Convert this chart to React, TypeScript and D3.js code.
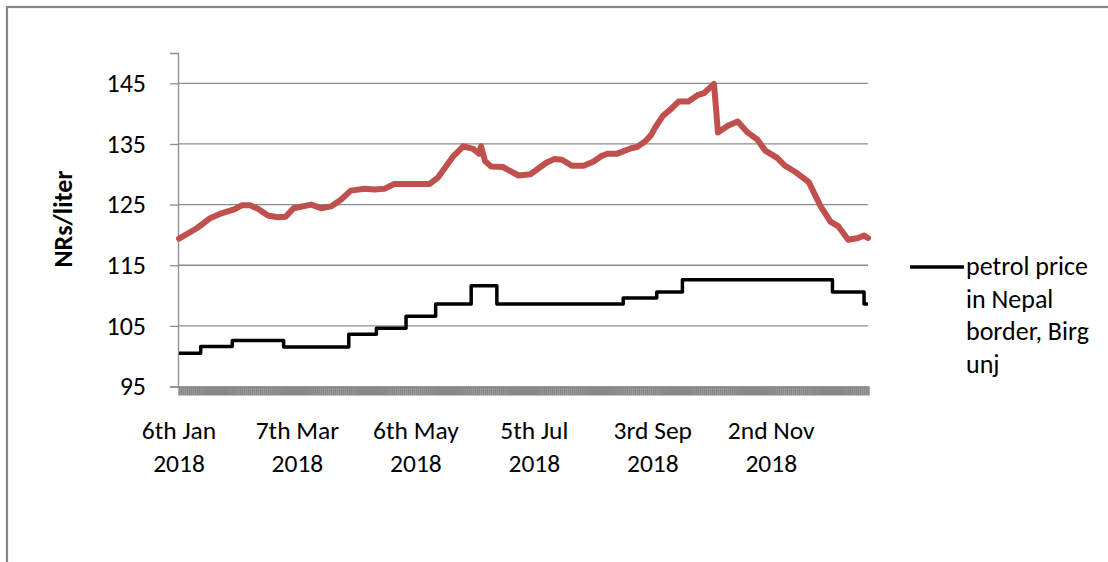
import { useEffect, useRef } from "react";
import * as d3 from "d3";

// red series (no legend entry in the source)
const redDates = [
  "2018-01-06", "2018-01-15", "2018-01-22", "2018-01-27", "2018-02-03", "2018-02-07",
  "2018-02-11", "2018-02-15", "2018-02-20", "2018-02-25", "2018-03-01", "2018-03-05",
  "2018-03-14", "2018-03-19", "2018-03-24", "2018-03-29", "2018-04-03", "2018-04-10",
  "2018-04-15", "2018-04-20", "2018-04-25", "2018-05-13", "2018-05-17", "2018-05-25",
  "2018-05-30", "2018-06-04", "2018-06-07", "2018-06-08", "2018-06-10", "2018-06-13",
  "2018-06-19", "2018-06-27", "2018-07-03", "2018-07-11", "2018-07-15", "2018-07-19",
  "2018-07-24", "2018-07-30", "2018-08-04", "2018-08-08", "2018-08-11", "2018-08-16",
  "2018-08-23", "2018-08-26", "2018-08-30", "2018-09-02", "2018-09-04", "2018-09-08",
  "2018-09-12", "2018-09-16", "2018-09-21", "2018-09-26", "2018-09-29", "2018-10-04",
  "2018-10-06", "2018-10-11", "2018-10-16", "2018-10-21", "2018-10-26", "2018-10-30",
  "2018-11-05", "2018-11-09", "2018-11-15", "2018-11-21", "2018-11-27", "2018-12-02",
  "2018-12-06", "2018-12-11", "2018-12-16", "2018-12-19", "2018-12-21",
];
const redPrices = [
  119.4, 121.1, 122.8, 123.5, 124.2, 124.9,
  124.9, 124.3, 123.2, 122.9, 123.0, 124.4,
  125.0, 124.4, 124.7, 125.8, 127.3, 127.6,
  127.5, 127.6, 128.4, 128.4, 129.4, 133.0,
  134.6, 134.2, 133.4, 134.6, 132.2, 131.3,
  131.2, 129.8, 130.0, 131.9, 132.5, 132.4,
  131.4, 131.4, 132.1, 133.0, 133.4, 133.4,
  134.3, 134.5, 135.4, 136.4, 137.6, 139.6,
  140.7, 142.0, 142.0, 143.1, 143.4, 144.9,
  136.9, 138.0, 138.7, 136.9, 135.7, 133.9,
  132.7, 131.4, 130.2, 128.7, 124.7, 122.2,
  121.4, 119.2, 119.5, 119.9, 119.5,
];

// petrol price in Nepal border, Birgunj: date of each price change
const nepalDates = [
  "2018-01-06", "2018-01-17", "2018-02-02", "2018-02-28", "2018-04-02", "2018-04-16",
  "2018-05-01", "2018-05-16", "2018-06-03", "2018-06-16", "2018-08-19", "2018-09-05",
  "2018-09-18", "2018-12-03", "2018-12-19", "2018-12-21",
];
const nepalPrices = [
  100.5, 101.6, 102.6, 101.5, 103.6, 104.6,
  106.6, 108.6, 111.6, 108.6, 109.6, 110.6,
  112.6, 110.6, 108.6, 108.6,
];

const yTicks = [95, 105, 115, 125, 135, 145];
const xLabelDates = ["2018-01-06", "2018-03-07", "2018-05-06", "2018-07-05", "2018-09-03", "2018-11-02"];
const xLabels = [
  ["6th Jan", "2018"], ["7th Mar", "2018"], ["6th May", "2018"],
  ["5th Jul", "2018"], ["3rd Sep", "2018"], ["2nd Nov", "2018"],
];
const legendLines = ["petrol price", "in Nepal", "border, Birg", "unj"];

const FONT = "Carlito, Calibri, Lato, sans-serif";

export default function App() {
  const ref = useRef<SVGSVGElement>(null);

  useEffect(() => {
    if (!ref.current) return;
    document.body.style.margin = "0";
    const svg = d3.select(ref.current);
    svg.selectAll("*").remove();

    const parse = d3.timeParse("%Y-%m-%d");
    const start = parse("2018-01-06") as Date;
    const end = parse("2018-12-21") as Date;

    const x = d3.scaleTime().domain([start, end]).range([179, 868]);
    const y = d3.scaleLinear().domain([95, 150]).range([386.5, 53]);

    // outer chart frame
    svg.append("rect")
      .attr("x", 7).attr("y", 7)
      .attr("width", 1200).attr("height", 700)
      .attr("fill", "none")
      .attr("stroke", "#868686")
      .attr("stroke-width", 2.2);

    // gridlines
    svg.append("g")
      .selectAll("line")
      .data(yTicks.slice(1))
      .join("line")
      .attr("x1", 178).attr("x2", 868)
      .attr("y1", d => y(d)).attr("y2", d => y(d))
      .attr("stroke", "#8c8c8c")
      .attr("stroke-width", 1.3);

    // y axis
    const yAxis = svg.append("g")
      .attr("transform", "translate(178,0)")
      .call(d3.axisLeft(y).tickValues(yTicks).tickSize(8).tickFormat(d3.format("d")));
    yAxis.select(".domain").attr("stroke", "#8c8c8c").attr("stroke-width", 1.3);
    yAxis.selectAll(".tick line").attr("stroke", "#8c8c8c").attr("stroke-width", 1.3);
    yAxis.selectAll(".tick text")
      .attr("x", -32)
      .attr("fill", "#000")
      .style("font-family", FONT)
      .style("font-size", "26px");

    // x axis: one tick per day gives the dense gray band
    const xAxis = svg.append("g")
      .attr("transform", `translate(0,${y(95)})`)
      .call(d3.axisBottom(x)
        .tickValues(d3.timeDay.range(start, d3.timeDay.offset(end, 1)))
        .tickSize(9)
        .tickFormat(() => ""));
    xAxis.select(".domain").attr("stroke", "#8c8c8c").attr("stroke-width", 1.3);
    xAxis.selectAll(".tick line").attr("stroke", "#888888").attr("stroke-width", 2.2);

    // x labels
    const lab = svg.append("g")
      .selectAll("text")
      .data(xLabelDates.map((d, i) => ({ date: parse(d) as Date, lines: xLabels[i] })))
      .join("text")
      .attr("x", d => x(d.date))
      .attr("y", 439)
      .attr("text-anchor", "middle")
      .style("font-family", FONT)
      .style("font-size", "25.5px")
      .attr("fill", "#000");
    lab.selectAll("tspan")
      .data(d => d.lines.map(l => ({ l, x: x(d.date) })))
      .join("tspan")
      .attr("x", d => d.x)
      .attr("dy", (_, i) => (i === 0 ? 0 : 33))
      .text(d => d.l);

    // y axis title
    svg.append("text")
      .attr("transform", "translate(72,219) rotate(-90)")
      .attr("text-anchor", "middle")
      .style("font-family", FONT)
      .style("font-size", "26px")
      .style("font-weight", "bold")
      .text("NRs/liter");

    const red = redDates.map((d, i) => ({ date: parse(d) as Date, v: redPrices[i] }));
    const nepal = nepalDates.map((d, i) => ({ date: parse(d) as Date, v: nepalPrices[i] }));

    svg.append("path")
      .datum(red)
      .attr("fill", "none")
      .attr("stroke", "#C0504D")
      .attr("stroke-width", 6)
      .attr("stroke-linejoin", "round")
      .attr("stroke-linecap", "round")
      .attr("d", d3.line<{ date: Date; v: number }>().x(d => x(d.date)).y(d => y(d.v)));

    svg.append("path")
      .datum(nepal)
      .attr("fill", "none")
      .attr("stroke", "#000")
      .attr("stroke-width", 3.5)
      .attr("stroke-linejoin", "round")
      .attr("d", d3.line<{ date: Date; v: number }>()
        .curve(d3.curveStepAfter)
        .x(d => x(d.date)).y(d => y(d.v)));

    // legend
    svg.append("line")
      .attr("x1", 910).attr("x2", 964)
      .attr("y1", 267).attr("y2", 267)
      .attr("stroke", "#000")
      .attr("stroke-width", 3.5);
    svg.append("g")
      .selectAll("text")
      .data(legendLines)
      .join("text")
      .attr("x", 966)
      .attr("y", (_, i) => 275 + i * 32.5)
      .style("font-family", FONT)
      .style("font-size", "26px")
      .attr("fill", "#000")
      .text(d => d);
  }, []);

  return (
    <svg
      ref={ref}
      width={1108}
      height={562}
      style={{ display: "block", background: "#fff" }}
    />
  );
}
